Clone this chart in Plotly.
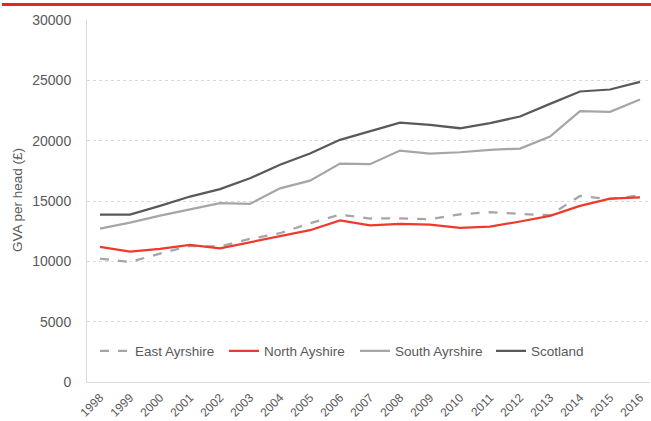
import plotly.graph_objects as go

years = [str(y) for y in range(1998, 2017)]
east_ayrshire = [10220, 9950, 10640, 11280, 11220, 11860, 12330, 13160, 13870, 13550,
                 13560, 13490, 13900, 14070, 13930, 13820, 15420, 15150, 15480]
north_ayshire = [11195, 10810, 11030, 11360, 11080, 11580, 12020, 12580, 13400, 12990,
                 13100, 13045, 12770, 12880, 13300, 13770, 14600, 15200, 15310]
south_ayrshire = [12710, 13210, 13790, 14320, 14820, 14760, 16050, 16690, 18100, 18050,
                  19180, 18930, 19040, 19240, 19350, 20340, 22440, 22390, 23410]
scotland = [13870, 13870, 14600, 15370, 15980, 16890, 18000, 18930, 20070, 20810,
            21500, 21310, 21030, 21450, 22000, 23050, 24075, 24240, 24875]

W, H = 651, 421
ml, mr, mt, mb = 87, 1, 20, 39
pw = W - ml - mr
ph = H - mt - mb

series = [
    ("East Ayrshire", east_ayrshire, dict(color="#A6A6A6", width=2.25, dash="dash"), "legend"),
    ("North Ayshire", north_ayshire, dict(color="#EE3A2C", width=2.25), "legend2"),
    ("South Ayrshire", south_ayrshire, dict(color="#A6A6A6", width=2.25), "legend3"),
    ("Scotland", scotland, dict(color="#595959", width=2.25), "legend4"),
]

fig = go.Figure()
for name, vals, line, leg in series:
    fig.add_trace(go.Scatter(x=years, y=vals, name=name, mode="lines", line=line, legend=leg))

fig.add_shape(type="line", xref="paper", yref="paper",
              x0=(2 - ml) / pw, x1=(W - ml) / pw,
              y0=(H - mb - 4.5) / ph, y1=(H - mb - 4.5) / ph,
              line=dict(color="#E2261F", width=3))

leg_text_px = [136, 265, 396, 532]
leg_common = dict(orientation="h", xanchor="left", yanchor="middle", y=(382 - 351) / ph,
                  bgcolor="rgba(0,0,0,0)", font=dict(size=13.5, color="#595959"))
legends = {}
for i, tx in enumerate(leg_text_px):
    key = "legend" if i == 0 else f"legend{i + 1}"
    legends[key] = dict(x=(tx - 41 - ml) / pw, **leg_common)

fig.update_layout(
    width=W, height=H,
    margin=dict(l=ml, r=mr, t=mt, b=mb, autoexpand=False),
    paper_bgcolor="white", plot_bgcolor="white",
    font=dict(family="Liberation Sans, Arial, sans-serif", color="#595959", size=13),
    showlegend=True,
    xaxis=dict(type="category", range=[-13 / 30, 18 + 10 / 30], showgrid=False,
               showline=True, linecolor="#D9D9D9", linewidth=1, ticks="",
               tickangle=-45, automargin=False, ticklabelstandoff=3,
               tickfont=dict(size=12, color="#595959")),
    yaxis=dict(range=[0, 30000], tickvals=[0, 5000, 10000, 15000, 20000, 25000, 30000],
               ticktext=["0", "5000", "10000", "15000", "20000", "25000", "30000"],
               showgrid=True, gridcolor="#D9D9D9", griddash="dot", gridwidth=1,
               showline=True, linecolor="#D9D9D9", linewidth=1, zeroline=False,
               ticks="", ticklabelstandoff=12, automargin=False,
               tickfont=dict(size=14, color="#595959")),
    annotations=[dict(text="GVA per head (£)", xref="paper", yref="paper",
                      x=(18 - ml) / pw, y=(382 - 200) / ph, textangle=-90,
                      showarrow=False, xanchor="center", yanchor="middle",
                      font=dict(size=13.5, color="#595959"))],
    **legends,
)

fig.write_html("out.html", config={"displayModeBar": False},
               post_script="document.body.style.margin='0';")
